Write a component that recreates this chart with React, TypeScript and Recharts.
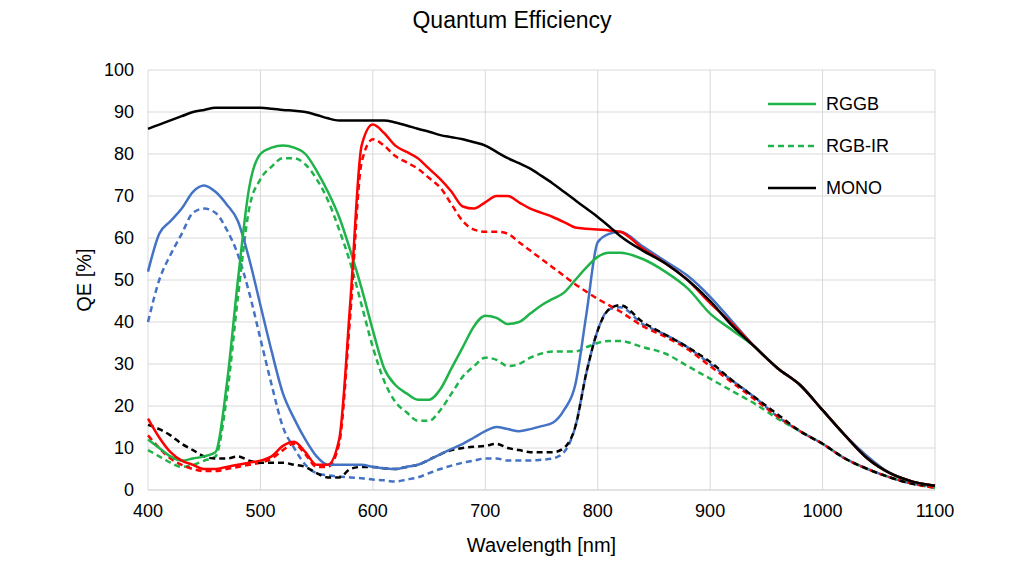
import { CartesianGrid, Label, Line, LineChart, XAxis, YAxis } from "recharts";

// wavelength grid (nm) shared by every series
const wavelengths = [
  400, 410, 420, 430, 440, 450, 460, 470, 480, 490, 500, 510, 520, 530, 540, 550, 560, 570, 580, 590,
  600, 610, 620, 630, 640, 650, 660, 670, 680, 690, 700, 710, 720, 730, 740, 750, 760, 770, 780, 790,
  800, 810, 820, 840, 860, 880, 900, 920, 940, 960, 980, 1000, 1020, 1040, 1060, 1080, 1100,
];

const monoSolid = [
  86, 87, 88, 89, 90, 90.5, 91, 91, 91, 91, 91, 90.8, 90.5, 90.3, 90, 89.3, 88.5, 88, 88, 88,
  88, 88, 87.5, 86.8, 86, 85.3, 84.5, 84, 83.5, 82.8, 82, 80.5, 79, 77.8, 76.5, 74.8, 73, 71, 69, 67,
  65, 62.8, 60.5, 57, 54, 50, 45, 39, 34, 29, 25, 19, 13, 7.5, 4, 2, 1,
];
const monoDashed = [
  15.5, 14.5, 13, 11, 9.5, 8, 7.5, 7.5, 8, 7, 6.5, 6.5, 6.5, 6, 5.5, 4, 3, 3, 5, 5.5,
  5.5, 5.2, 5, 5.5, 6, 7.2, 8.5, 9.5, 10, 10.3, 10.5, 11, 10, 9.5, 9, 9, 9, 10, 15, 28,
  38, 43, 44, 40, 37, 34, 30.5, 26, 22, 18, 14, 11, 7.5, 5, 3, 1.5, 1,
];
const blueSolid = [
  52, 61, 64, 67, 71, 72.5, 71, 68, 64, 55, 44, 33, 23, 17, 12, 8, 6, 6, 6, 6,
  5.5, 5.2, 5, 5.5, 6, 7.2, 8.5, 9.8, 11, 12.5, 14, 15, 14.5, 14, 14.5, 15.2, 16, 19, 25, 42,
  59, 61, 61.5, 58, 54.5, 51, 46, 40, 34, 29, 25, 19, 13, 8, 4, 2, 1,
];
const blueDashed = [
  40, 50, 56, 61, 66, 67, 66, 62, 56, 47, 36, 25, 15, 10, 6, 4, 3.5, 3.2, 3, 2.8,
  2.5, 2.3, 2, 2.5, 3, 4, 5, 5.8, 6.5, 7, 7.5, 7.5, 7, 7, 7, 7.2, 7.5, 9, 15, 28,
  38, 43, 43.5, 39.5, 37, 34, 30, 26, 22, 17.5, 14, 11, 7.5, 5, 3, 1.5, 1,
];
const greenSolid = [
  12, 10, 8, 7, 7.5, 8, 9, 25, 50, 72, 80, 81.5, 82, 81.5, 80, 76, 71, 65, 57, 48,
  38, 29, 25, 23, 21.5, 21.5, 24, 29, 34, 39, 41.5, 41, 39.5, 40, 42, 44, 45.5, 47, 50, 53,
  55.5, 56.5, 56.5, 55, 52, 48, 42, 38, 34, 29, 25, 19, 13, 7.5, 4, 2, 1,
];
const greenDashed = [
  9.5, 8, 6.5, 5.5, 6, 7, 8, 22, 46, 67, 74, 77, 79, 79, 77.5, 74, 69, 62, 54, 44,
  34, 26, 21, 18.5, 16.5, 16.5, 19, 23, 27, 29.5, 31.5, 31, 29.5, 30, 31.5, 32.5, 33, 33, 33, 34,
  35, 35.5, 35.5, 34, 32.5, 29.5, 26.5, 23.5, 20.5, 17, 14, 11, 7.5, 5, 3, 1.5, 0.5,
];
const redSolid = [
  17, 12.5, 9, 7, 6, 5, 5, 5.5, 6, 6.5, 7, 8, 10.5, 11.5, 9, 6, 6, 12, 45, 82,
  87, 85, 82, 80.5, 79, 76.5, 74, 71, 67.5, 67, 68.5, 70, 70, 68.5, 67, 66, 65, 63.8, 62.5, 62.2,
  62, 61.8, 61.5, 57.5, 54, 50, 44.5, 39.5, 34, 29, 25, 19, 13, 7.5, 4, 2, 1,
];
const redDashed = [
  13, 10, 7.5, 6, 5, 4.5, 4.5, 5, 5.5, 6, 6.5, 7.5, 9.5, 11, 8.5, 5.5, 5.5, 11, 42, 78,
  83.5, 82, 79.5, 78, 76.5, 74.3, 72, 68, 64, 62, 61.5, 61.5, 61, 59, 57, 55, 53, 51, 49, 47.2,
  45.5, 44, 42.5, 39, 36.5, 33.5, 29.5, 25.5, 21.5, 17.5, 14, 11, 7.5, 5, 3, 1.5, 0.5,
];

const xTicks = [400, 500, 600, 700, 800, 900, 1000, 1100];
const yTicks = [0, 10, 20, 30, 40, 50, 60, 70, 80, 90, 100];

const legendItems = [
  { label: "RGGB", color: "#1fb34a", dash: undefined },
  { label: "RGB-IR", color: "#1fb34a", dash: "6 4" },
  { label: "MONO", color: "#000000", dash: undefined },
];

const data = wavelengths.map((w, i) => ({
  w,
  monoSolid: monoSolid[i],
  monoDashed: monoDashed[i],
  blueSolid: blueSolid[i],
  blueDashed: blueDashed[i],
  greenSolid: greenSolid[i],
  greenDashed: greenDashed[i],
  redSolid: redSolid[i],
  redDashed: redDashed[i],
}));

const series = [
  { key: "blueDashed", color: "#4472c4", dashed: true },
  { key: "greenDashed", color: "#1fb34a", dashed: true },
  { key: "redDashed", color: "#ff0000", dashed: true },
  { key: "monoDashed", color: "#000000", dashed: true },
  { key: "blueSolid", color: "#4472c4", dashed: false },
  { key: "greenSolid", color: "#1fb34a", dashed: false },
  { key: "redSolid", color: "#ff0000", dashed: false },
  { key: "monoSolid", color: "#000000", dashed: false },
];

const font = "Liberation Sans, Arial, sans-serif";

function LegendBox() {
  return (
    <div style={{ position: "absolute", top: 83, left: 768, fontFamily: font, fontSize: 18, color: "#000" }}>
      {legendItems.map((item) => (
        <div key={item.label} style={{ display: "flex", alignItems: "center", height: 42 }}>
          <svg width={48} height={10} style={{ marginRight: 10 }}>
            <line x1={0} y1={5} x2={48} y2={5} stroke={item.color} strokeWidth={2.5} strokeDasharray={item.dash} />
          </svg>
          {item.label}
        </div>
      ))}
    </div>
  );
}

export default function App() {
  return (
    <div style={{ margin: -8, position: "relative", width: 1024, height: 580, background: "#fff", fontFamily: font }}>
      <div style={{ position: "absolute", top: 7, width: 1024, textAlign: "center", fontSize: 23 }}>Quantum Efficiency</div>
      <LineChart width={1024} height={580} data={data} margin={{ top: 70, right: 89, bottom: 40, left: 88 }}>
        <CartesianGrid stroke="#d9d9d9" />
        <XAxis
          dataKey="w"
          type="number"
          domain={[400, 1100]}
          ticks={xTicks}
          height={50}
          stroke="#d9d9d9"
          tickLine={false}
          tick={{ fill: "#000", fontSize: 18, fontFamily: font }}
          tickMargin={8}
        >
          <Label value="Wavelength [nm]" position="insideBottom" offset={-12} style={{ fill: "#000", fontSize: 20, fontFamily: font }} />
        </XAxis>
        <YAxis
          type="number"
          domain={[0, 100]}
          ticks={yTicks}
          width={60}
          axisLine={false}
          tickLine={false}
          tick={{ fill: "#000", fontSize: 18, fontFamily: font }}
          tickMargin={8}
        >
          <Label value="QE [%]" angle={-90} position="insideLeft" offset={0} dx={-4} style={{ fill: "#000", fontSize: 20, fontFamily: font, textAnchor: "middle" }} />
        </YAxis>
        {series.map((s) => (
          <Line
            key={s.key}
            dataKey={s.key}
            type="monotone"
            stroke={s.color}
            strokeWidth={2.5}
            strokeDasharray={s.dashed ? "6 4" : undefined}
            dot={false}
            isAnimationActive={false}
          />
        ))}
      </LineChart>
      <LegendBox />
    </div>
  );
}
